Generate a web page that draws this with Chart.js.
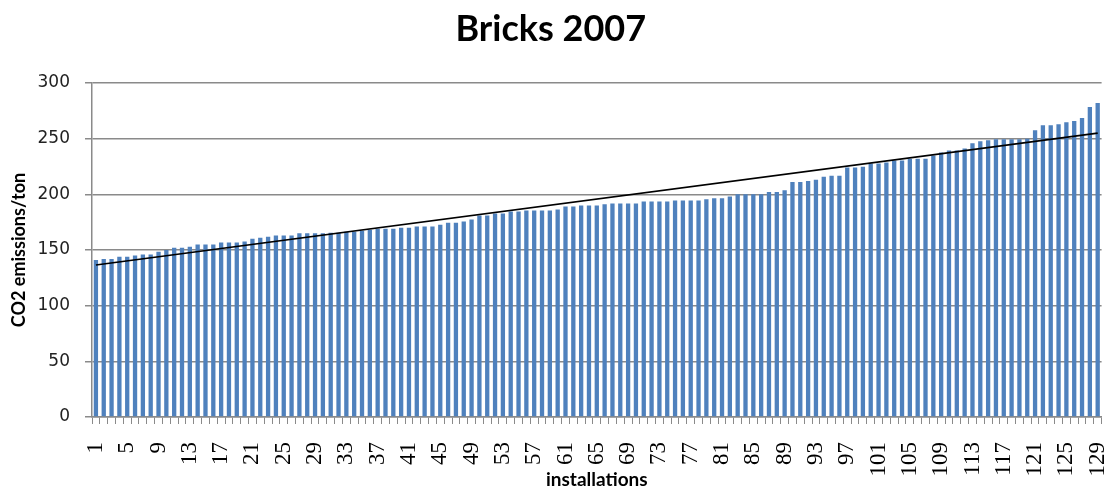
<!DOCTYPE html>
<html>
<head>
<meta charset="utf-8">
<script src="https://cdn.jsdelivr.net/npm/chart.js@4/dist/chart.umd.min.js"></script>
<style>
  html, body { margin: 0; padding: 0; background: #fff; }
  #wrap { width: 1112px; height: 490px; position: relative; }
</style>
</head>
<body>
<div id="wrap"><canvas id="c" width="1112" height="490"></canvas></div>
<script>
const chartTitle = 'Bricks 2007';
const xTitle = 'installations';
const yTitle = 'CO2 emissions/ton';

const categories = ['1','2','3','4','5','6','7','8','9','10','11','12','13','14','15','16','17','18','19','20',
  '21','22','23','24','25','26','27','28','29','30','31','32','33','34','35','36','37','38','39','40',
  '41','42','43','44','45','46','47','48','49','50','51','52','53','54','55','56','57','58','59','60',
  '61','62','63','64','65','66','67','68','69','70','71','72','73','74','75','76','77','78','79','80',
  '81','82','83','84','85','86','87','88','89','90','91','92','93','94','95','96','97','98','99','100',
  '101','102','103','104','105','106','107','108','109','110','111','112','113','114','115','116','117','118','119','120',
  '121','122','123','124','125','126','127','128','129'];

const emissions = [
  141, 142, 142, 144, 144, 145, 146, 146, 148.5, 150,
  152, 152, 153, 155, 155, 155, 156.7, 156.7, 156.7, 157.6,
  160, 161, 162, 163, 163, 163, 165, 165, 165, 165,
  165.5, 165.5, 166.4, 166.4, 167.3, 168.2, 169, 169, 169, 170,
  170, 171, 171, 171, 172.7, 174.5, 174.5, 175.5, 177.3, 181,
  181, 182.7, 182.7, 184.5, 184.5, 185.5, 185.5, 185.5, 185.5, 186.4,
  189, 189, 190, 190, 190, 191, 191.8, 191.8, 191.8, 191.8,
  193.6, 193.6, 193.6, 193.6, 194.5, 194.5, 194.5, 194.5, 195.5, 196.4,
  196.4, 198, 200, 200, 200, 200, 202, 202, 203.6, 211,
  211, 212, 213, 215.8, 216.7, 216.7, 224, 224, 224.8, 227.6,
  227.6, 228.5, 230.3, 230.3, 232, 232, 232, 234.8, 237.6, 239.4,
  239.4, 241.2, 245.8, 247.6, 248.5, 249.4, 249.4, 249.4, 249.4, 250,
  257.6, 262, 262, 263, 264.8, 265.8, 268.5, 278.5, 282
];

// Linear trendline end points
const trendCategories = ['1', '129'];
const trendValues = [136.5, 255];

const xTickLabels = ['1','5','9','13','17','21','25','29','33','37','41','45','49','53','57','61','65','69','73','77',
  '81','85','89','93','97','101','105','109','113','117','121','125','129'];
const yTickValues = [0, 50, 100, 150, 200, 250, 300];

const GRID = '#8a8a8a';

new Chart(document.getElementById('c'), {
  type: 'bar',
  data: {
    labels: categories,
    datasets: [
      {
        type: 'line',
        label: 'Linear trend',
        data: trendCategories.map((c, i) => ({ x: c, y: trendValues[i] })),
        borderColor: '#000000',
        borderWidth: 1.6,
        pointRadius: 0,
        fill: false,
        tension: 0,
        order: 0
      },
      {
        type: 'bar',
        label: 'CO2 emissions/ton',
        data: emissions,
        backgroundColor: '#4F81BD',
        borderWidth: 0,
        barPercentage: 0.55,
        categoryPercentage: 1.0,
        order: 1
      }
    ]
  },
  options: {
    responsive: false,
    animation: false,
    devicePixelRatio: 1,
    layout: { padding: { left: 0, right: 10.4, top: 0, bottom: 0 } },
    plugins: {
      legend: { display: false },
      tooltip: { enabled: false },
      title: {
        display: true,
        text: chartTitle,
        color: '#000',
        font: { family: 'Lato', weight: 'bold', size: 36, lineHeight: 1.2 },
        padding: { top: 8, bottom: 31.8 }
      }
    },
    scales: {
      x: {
        type: 'category',
        offset: true,
        grid: {
          offset: true,
          drawOnChartArea: false,
          drawTicks: true,
          tickLength: 7,
          color: GRID,
          lineWidth: 1
        },
        border: { display: true, color: GRID, width: 1.5 },
        ticks: {
          autoSkip: false,
          maxRotation: 90,
          minRotation: 90,
          padding: 18,
          color: '#000',
          font: { family: 'Liberation Serif', size: 23, lineHeight: 1 },
          callback: function (value) {
            const lab = this.getLabelForValue(value);
            return xTickLabels.includes(lab) ? lab : '';
          }
        },
        title: {
          display: true,
          text: xTitle,
          color: '#000',
          font: { family: 'Lato', weight: 'bold', size: 19, lineHeight: 1 },
          padding: { top: 0, bottom: 1 }
        },
        afterFit: function (scale) {
          scale.height = 73;
          scale.paddingLeft = 0;
          scale.paddingRight = 0;
        }
      },
      y: {
        min: 0,
        max: 300,
        afterBuildTicks: function (scale) {
          scale.ticks = yTickValues.map(v => ({ value: v }));
        },
        grid: {
          color: GRID,
          lineWidth: 1.5,
          drawTicks: true,
          tickLength: 7
        },
        border: { display: true, color: GRID, width: 1.5 },
        ticks: {
          padding: 15,
          color: '#222',
          font: { family: 'DejaVu Sans', size: 17 }
        },
        title: {
          display: true,
          text: yTitle,
          color: '#000',
          font: { family: 'Lato', weight: 'bold', size: 18, lineHeight: 1.2 },
          padding: { top: 8, bottom: 0 }
        },
        afterFit: function (scale) {
          scale.width = 92;
          scale.paddingTop = 0;
          scale.paddingBottom = 0;
        }
      }
    }
  }
});
</script>
</body>
</html>
